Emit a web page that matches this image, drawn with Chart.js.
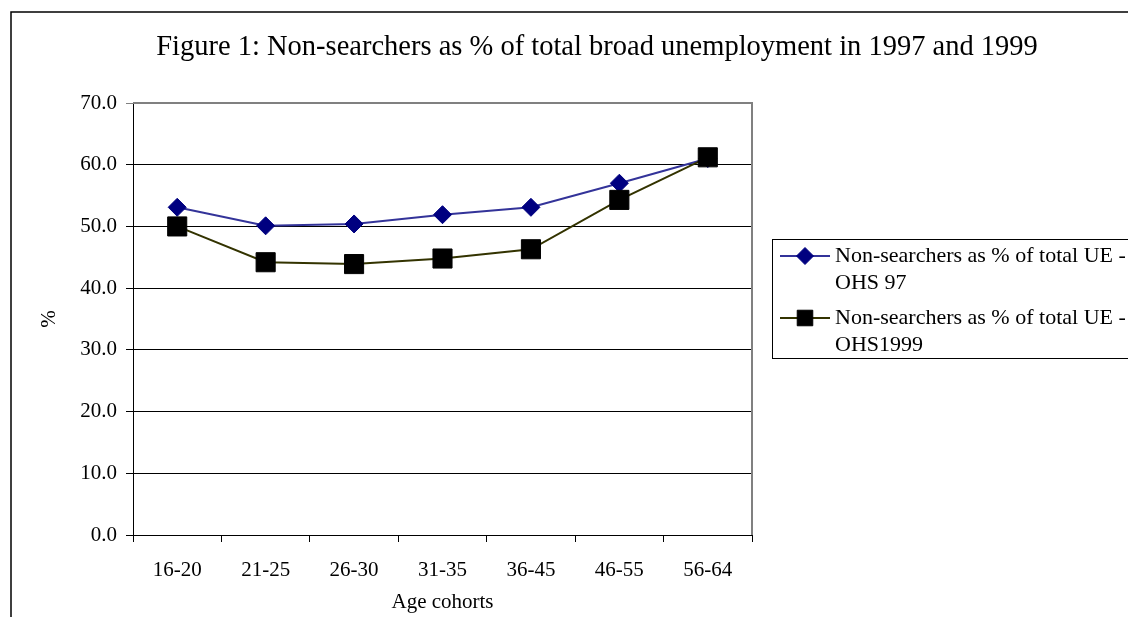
<!DOCTYPE html>
<html>
<head>
<meta charset="utf-8">
<script src="https://cdn.jsdelivr.net/npm/chart.js@4/dist/chart.umd.min.js"></script>
<style>
  html, body { margin: 0; padding: 0; background: #fff; overflow: hidden; }
  canvas { display: block; }
</style>
</head>
<body>
<canvas id="chart" width="1128" height="617"></canvas>
<script>
// Chart text
const chartTitle = 'Figure 1: Non-searchers as % of total broad unemployment in 1997 and 1999';
const xAxisTitle = 'Age cohorts';
const yAxisTitle = '%';

// Categories and series
const ageCohorts = ['16-20', '21-25', '26-30', '31-35', '36-45', '46-55', '56-64'];
const ohs97Values = [53.1, 50.1, 50.4, 51.9, 53.1, 57.0, 61.0];
const ohs1999Values = [50.0, 44.2, 43.9, 44.8, 46.3, 54.3, 61.2];
const seriesLabels = [
  'Non-searchers as % of total UE - OHS 97',
  'Non-searchers as % of total UE - OHS1999'
];

// Value axis range
const yMin = 0;
const yMax = 70;
const yStep = 10;

const SERIF = '"Liberation Serif", "Times New Roman", Times, serif';
const BASE_SIZE = 21;

function drawMarker(ctx, style, x, y, r, fill, stroke) {
  ctx.beginPath();
  if (style === 'rectRot') {
    ctx.moveTo(x - r, y);
    ctx.lineTo(x, y - r);
    ctx.lineTo(x + r, y);
    ctx.lineTo(x, y + r);
    ctx.closePath();
  } else {
    const h = Math.SQRT1_2 * r;
    ctx.rect(x - h, y - h, 2 * h, 2 * h);
  }
  ctx.fillStyle = fill;
  ctx.fill();
  ctx.lineWidth = 1;
  ctx.strokeStyle = stroke;
  ctx.stroke();
}

// Frame, centred heading, plot-area border and the boxed legend
const decorations = {
  id: 'decorations',
  beforeDraw(chart) {
    const ctx = chart.ctx;
    ctx.save();
    ctx.fillStyle = '#fff';
    ctx.fillRect(0, 0, chart.width, chart.height);
    ctx.strokeStyle = '#000';
    ctx.lineWidth = 1.5;
    ctx.beginPath();
    ctx.moveTo(11, chart.height);
    ctx.lineTo(11, 12);
    ctx.lineTo(chart.width, 12);
    ctx.stroke();
    ctx.fillStyle = '#000';
    ctx.font = '28.5px ' + SERIF;
    ctx.textAlign = 'center';
    ctx.textBaseline = 'middle';
    ctx.fillText(chartTitle, 597, 48);
    ctx.restore();
  },
  beforeDatasetsDraw(chart) {
    const { ctx, chartArea: a } = chart;
    ctx.save();
    ctx.strokeStyle = '#808080';
    ctx.lineWidth = 2;
    ctx.beginPath();
    ctx.moveTo(a.left, a.top);
    ctx.lineTo(a.right, a.top);
    ctx.lineTo(a.right, a.bottom);
    ctx.stroke();
    ctx.restore();
  },
  afterDraw(chart) {
    const { ctx, chartArea: a } = chart;
    const boxLeft = a.right + 20;
    const boxTop = 239;
    const boxHeight = 119;
    ctx.save();
    ctx.strokeStyle = '#000';
    ctx.lineWidth = 1;
    ctx.strokeRect(boxLeft + 0.5, boxTop + 0.5, chart.width + 20 - boxLeft, boxHeight);
    ctx.font = '22px ' + SERIF;
    ctx.textAlign = 'left';
    ctx.textBaseline = 'middle';
    chart.data.datasets.forEach((ds, i) => {
      const y = boxTop + 17 + i * 62;
      const x0 = boxLeft + 8;
      ctx.strokeStyle = ds.borderColor;
      ctx.lineWidth = ds.borderWidth;
      ctx.beginPath();
      ctx.moveTo(x0, y);
      ctx.lineTo(x0 + 50, y);
      ctx.stroke();
      const r = ds.pointStyle === 'rectRot' ? 8.5 : 11;
      drawMarker(ctx, ds.pointStyle, x0 + 25, y, r, ds.pointBackgroundColor, ds.pointBorderColor);
      const lines = ds.label.split(/(?<= -) /);
      ctx.fillStyle = '#000';
      lines.forEach((t, k) => ctx.fillText(t, x0 + 55, y + k * 27));
    });
    ctx.restore();
  }
};

const tickFont = { family: SERIF, size: BASE_SIZE };

new Chart(document.getElementById('chart'), {
  type: 'line',
  data: {
    labels: ageCohorts,
    datasets: [
      {
        label: seriesLabels[0],
        data: ohs97Values,
        borderColor: '#333399',
        borderWidth: 2,
        pointStyle: 'rectRot',
        pointRadius: 9,
        pointBackgroundColor: '#000080',
        pointBorderColor: '#000080',
        pointBorderWidth: 1,
        tension: 0,
        order: 2
      },
      {
        label: seriesLabels[1],
        data: ohs1999Values,
        borderColor: '#333300',
        borderWidth: 2,
        pointStyle: 'rect',
        pointRadius: 13.5,
        pointBackgroundColor: '#000000',
        pointBorderColor: '#000000',
        pointBorderWidth: 1,
        tension: 0,
        order: 1
      }
    ]
  },
  options: {
    responsive: false,
    animation: false,
    devicePixelRatio: 1,
    layout: { padding: { left: 11, top: 103, right: 376, bottom: 0 } },
    plugins: {
      legend: { display: false },
      title: { display: false },
      tooltip: { enabled: false }
    },
    scales: {
      x: {
        type: 'category',
        offset: true,
        grid: { offset: true, drawOnChartArea: false, drawTicks: true, tickLength: 7, color: '#000', lineWidth: 1 },
        border: { color: '#000', width: 1 },
        ticks: { color: '#000', font: tickFont, padding: 16, maxRotation: 0, autoSkip: false },
        title: { display: true, text: xAxisTitle, color: '#000', font: tickFont, padding: { top: 0, bottom: 2 } },
        afterFit(scale) { scale.height = 82; }
      },
      y: {
        min: yMin,
        max: yMax,
        ticks: {
          stepSize: yStep,
          color: '#000',
          font: tickFont,
          padding: 9,
          callback: v => Number(v).toFixed(1)
        },
        grid: {
          color: c => (c.tick && c.tick.value === yMax ? '#808080' : '#000'),
          lineWidth: 1,
          tickLength: 7
        },
        border: { color: '#000', width: 1 },
        title: { display: true, text: yAxisTitle, color: '#000', font: tickFont, padding: { top: 26, bottom: 0 } },
        afterFit(scale) { scale.width = 122; }
      }
    }
  },
  plugins: [decorations]
});
</script>
</body>
</html>
